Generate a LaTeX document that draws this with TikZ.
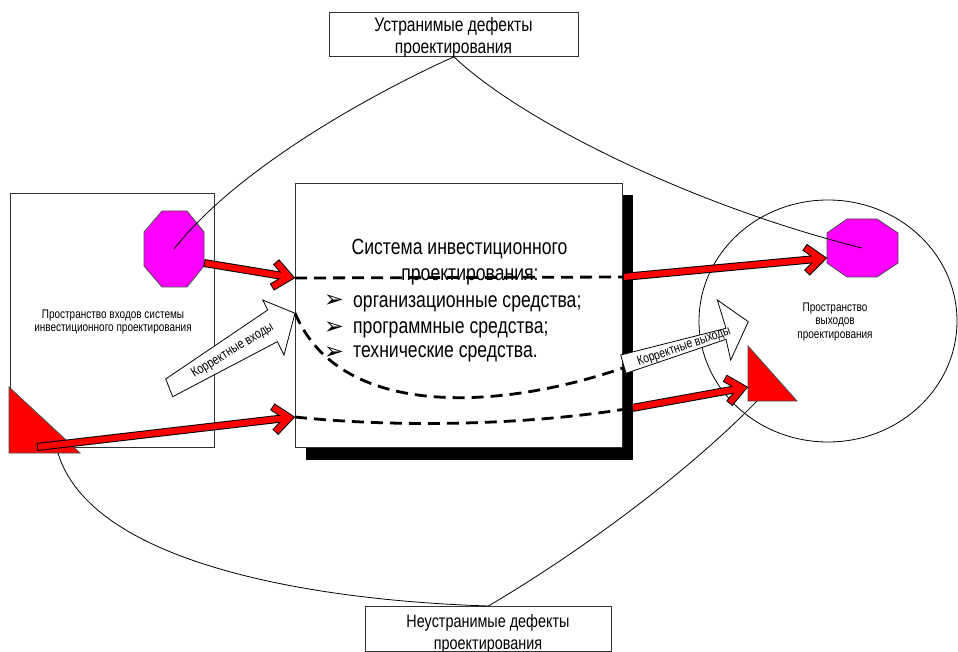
\documentclass[tikz,border=0pt]{standalone}
\usepackage{fontspec}
\setmainfont{Liberation Sans}[FakeStretch=0.8]
\newfontfamily\djv{DejaVu Sans}
\usetikzlibrary{calc,shapes.geometric}

\definecolor{magpink}{RGB}{255,0,255}
\definecolor{purered}{RGB}{255,0,0}

\tikzset{
  thinline/.style={draw=black, line width=0.8pt},
  boxst/.style={draw=black!80, line width=0.8pt, fill=white, inner sep=0pt},
  dashst/.style={draw=black, line width=2.8pt, dash pattern=on 12pt off 7pt},
  redouter/.style={draw=black, line width=8pt, line join=miter, line cap=butt},
  redinner/.style={draw=purered, line width=6pt, line join=miter, line cap=butt},
  octo/.style={fill=magpink, draw=black!70, line width=0.8pt},
  tri/.style={fill=purered, draw=black!70, line width=0.8pt},
  whitearrow/.style={fill=white, draw=black, line width=0.8pt, line join=miter},
  txt/.style={inner sep=0pt, anchor=base},
}

\newcommand\redarr[2]{%
  \coordinate (rv) at ($(#2)!6pt!(#1)$);
  \draw[redouter] (#1) -- ($(#2)!8pt!(#1)$);
  \draw[redouter] ($(rv)!20pt!40:(#1)$) -- (rv) -- ($(rv)!20pt!-40:(#1)$);
  \draw[redinner] ($(#1)!1pt!(#2)$) -- ($(#2)!8pt!(#1)$);
  \draw[redinner] ($(rv)!19pt!40:(#1)$) -- (rv) -- ($(rv)!19pt!-40:(#1)$);
}

\begin{document}
\begin{tikzpicture}[x=1pt,y=-1pt]
\useasboundingbox (0,0) rectangle (958,652);
\fill[white] (0,0) rectangle (958,652);

% ---- named points
\coordinate (octL) at (174,249);
\coordinate (octR) at (862,248);
\coordinate (triLb) at (58,453);
\coordinate (triRb) at (757,401);
\coordinate (S1) at (204,263);  \coordinate (T1) at (295,278);
\coordinate (S2) at (37,447);   \coordinate (T2) at (295,417);
\coordinate (S3) at (623,277);  \coordinate (T3) at (827,258);
\coordinate (S4) at (632,408);  \coordinate (T4) at (748,387);
\coordinate (inB) at (295,313);
\coordinate (outB) at (623,368);

% ---- left input space
\node[boxst, minimum width=204pt, minimum height=254pt, anchor=north west] (inbox) at (10,193) {};
\node[txt, font=\fontsize{12.5}{13}\selectfont] (in1) at (113,318) {Пространство входов системы};
\node[txt, font=\fontsize{12.5}{13}\selectfont] (in2) at (113,331) {инвестиционного проектирования};

% ---- central system box with shadow
\fill[black] (306,195) rectangle (633,460);
\node[boxst, minimum width=327pt, minimum height=264pt, anchor=north west] (sys) at (295,183) {};
\node[txt, font=\fontsize{22}{26}\selectfont] (s1) at (459.5,255) {Система инвестиционного};
\node[txt, font=\fontsize{22}{26}\selectfont] (s2) at (470,280) {проектирования:};
\node[txt, font=\djv\fontsize{24}{24}\selectfont] (b1) at (334,308) {➢};
\node[txt, font=\djv\fontsize{24}{24}\selectfont] (b2) at (334,334) {➢};
\node[txt, font=\djv\fontsize{24}{24}\selectfont] (b3) at (334,359) {➢};
\node[txt, anchor=base west, font=\fontsize{22}{26}\selectfont] (i1) at (353,307) {организационные средства;};
\node[txt, anchor=base west, font=\fontsize{22}{26}\selectfont] (i2) at (353,333) {программные средства;};
\node[txt, anchor=base west, font=\fontsize{22}{26}\selectfont] (i3) at (353,357) {технические средства.};

% ---- output space
\node[draw=black, line width=0.8pt, ellipse, minimum width=258pt, minimum height=242pt, inner sep=0pt] (outsp) at (828,321) {};
\node[txt, font=\fontsize{12.5}{13}\selectfont] (o1) at (835,311) {Пространство};
\node[txt, font=\fontsize{12.5}{13}\selectfont] (o2) at (835,324) {выходов};
\node[txt, font=\fontsize{12.5}{13}\selectfont] (o3) at (835,338) {проектирования};

% ---- dashed paths through the system
\draw[dashst] (T1) -- (S3);
\draw[dashst] (inB) .. controls (340,420) and (500,410) .. (outB);
\draw[dashst] (T2) .. controls (400,428) and (530,425) .. (S4);

% ---- shapes
\draw[octo] (162,211) -- (187,211) -- (204,232) -- (204,266) -- (187,287) -- (162,287) -- (144,266) -- (144,232) -- cycle;
\draw[octo] (847,219) -- (877,219) -- (898,233) -- (898,263) -- (877,277) -- (847,277) -- (827,263) -- (827,233) -- cycle;
\draw[tri] (9,387) -- (9,453) -- (80,453) -- cycle;
\draw[tri] (748,346) -- (748,401) -- (797,401) -- cycle;

% ---- red arrows
\redarr{S1}{T1}
\redarr{S2}{T2}
\redarr{S3}{T3}
\redarr{S4}{T4}

% ---- defect boxes
\node[boxst, minimum width=249pt, minimum height=44pt, anchor=north west] (fix) at (329,12) {};
\node[txt, font=\fontsize{19.5}{22}\selectfont] (f1) at (453.5,32) {Устранимые дефекты};
\node[txt, font=\fontsize{19.5}{22}\selectfont] (f2) at (453.5,54) {проектирования};

\node[boxst, minimum width=246pt, minimum height=45pt, anchor=north west] (unfix) at (365,606) {};
\node[txt, font=\fontsize{18}{22}\selectfont] (u1) at (488,627) {Неустранимые дефекты};
\node[txt, font=\fontsize{18}{22}\selectfont] (u2) at (488,649) {проектирования};

% ---- thin connectors
\draw[thinline] (fix.south) .. controls (380,90) and (240,165) .. (octL);
\draw[thinline] (fix.south) .. controls (520,120) and (690,205) .. (octR);
\draw[thinline] (triLb) .. controls (90,560) and (300,600) .. (unfix.north);
\draw[thinline] (unfix.north) .. controls (600,540) and (700,460) .. (triRb);

% ---- white block arrows
\draw[whitearrow] (165.7,379) -- (267.7,310) -- (262.7,300) -- (295,313.3) -- (284,355) -- (277.3,341.7) -- (172.7,396.7) -- cycle;
\node[inner sep=0pt, rotate=31.5, font=\fontsize{13.5}{14}\selectfont] (kin) at (232.7,350.7) {Корректные входы};
\draw[whitearrow] (620.7,355) -- (726,328.3) -- (717.3,300) -- (748.3,321.7) -- (730.7,360) -- (726,339.3) -- (626,373.3) -- cycle;
\node[inner sep=0pt, rotate=18.9, font=\fontsize{13}{14}\selectfont] (kout) at (684,347) {Корректные выходы};
\end{tikzpicture}
\end{document}
